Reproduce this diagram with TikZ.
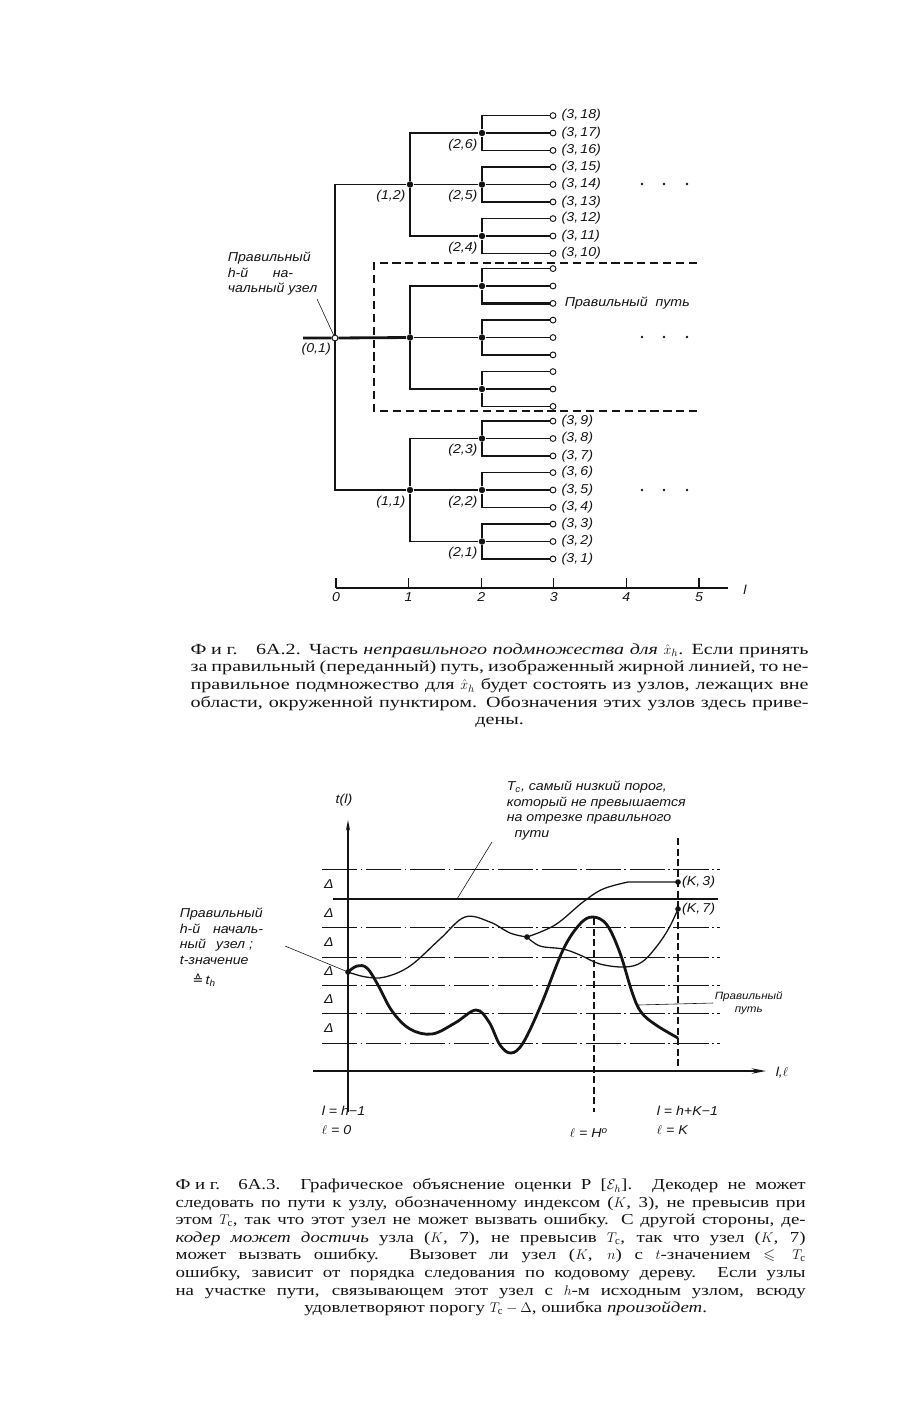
\documentclass[tikz,border=0pt]{standalone}
\usepackage{amssymb}
\usepackage{fontspec}
\setmainfont{Liberation Serif}
\newfontfamily\capfont[FakeStretch=1.3]{Liberation Serif}
\newfontfamily\capfontb[FakeStretch=1.24]{Liberation Serif}
\newfontfamily\labfont[FakeStretch=1.1]{Liberation Sans}
\newfontfamily\symfont{DejaVu Sans}
\usetikzlibrary{arrows.meta,positioning}
\definecolor{treeInk}{HTML}{141414}
\newcommand\capline[2][18.54cm]{\makebox[#1][s]{#2}}
\newcommand\xh{$\smash{\hat{x}_h}$}

\begin{document}
\begin{tikzpicture}[x=0.03cm,y=-0.03cm,line width=1.1pt,treeInk]
  \tikzset{
    lab/.style={font=\labfont\itshape\fontsize{11}{13.5}\selectfont,inner sep=1pt},
    knot/.style={circle,fill=treeInk,inner sep=0pt,minimum size=5.5pt},
    leaf/.style={circle,draw,fill=white,line width=0.8pt,inner sep=0pt,minimum size=5pt},
    mainpath/.style={line width=2.4pt},
    gline/.style={line width=0.45pt,dash pattern=on 30pt off 3pt on 1.5pt off 3pt},
    captext/.style={font=\capfont\fontsize{13.2}{15}\selectfont,inner sep=0pt,align=left,anchor=north west}
  }
  \useasboundingbox (0,0) rectangle (913,1423);

  % --- Fig. 6A.2: code tree ---
  \coordinate (r0) at (303,338);
  \node[leaf] (r) at (335,338) {};
  \node[knot] (u) at (410,184.5) {};
  \node[knot] (m) at (410,337.5) {};
  \node[knot] (d) at (410,490) {};
  \draw (r) |- (u);
  \draw (r) |- (d);
  \foreach \g/\y/\first in {u/184.5/18,m/337.5/0,d/490/9} {
    \foreach \j in {1,2,3} {
      \node[knot] (\g\j) at (482,{\y+51.5*(\j-2)}) {};
      \ifnum\j=2 \draw (\g) -- (\g\j); \else \draw (\g) |- (\g\j); \fi
      \foreach \k in {1,2,3} {
        \pgfmathtruncatemacro\nr{\first-3*(\j-1)-(\k-1)}
        \node[leaf] (\g\j\k) at (553,{\y+51.5*(\j-2)+17.4*(\k-2)}) {};
        \ifnum\k=2 \draw (\g\j) -- (\g\j\k); \else \draw (\g\j) |- (\g\j\k); \fi
        \ifnum\first>0 \node[lab,right=3pt of \g\j\k] {(3,\,\nr)}; \fi
      }
    }
  }
  % correct path
  \draw[mainpath] (r0) -- (r) -- (m);
  \draw[mainpath] (m) |- (m1);
  \draw[mainpath] (m1) |- (m13);
  \foreach \n/\t in {r/{(0,1)},u/{(1,2)},d/{(1,1)},u1/{(2,6)},u2/{(2,5)},u3/{(2,4)},d1/{(2,3)},d2/{(2,2)},d3/{(2,1)}}
    \node[lab,below left=1pt and 0pt of \n] {\t};
  \foreach \y in {184,337,490}
    \foreach \x in {642,664,687}
      \fill (\x,\y) circle (1.2pt);
  \draw[line width=1pt,dash pattern=on 7pt off 4pt] (697,263) -| (374,411) -- (697,411);
  \node[lab,anchor=west] (pp) at (563,303) {Правильный\ \ путь};
  \node[lab,align=left,anchor=north west] (nt) at (226,250) {Правильный\\h-й\hspace{1.9em}на-\\чальный узел};
  \coordinate (nt0) at (317,299);
  \draw[line width=0.5pt] (nt0) -- (r);
  % level axis
  \draw (336,588) -- (728,588);
  \foreach \i in {0,...,5} {
    \draw (336+72.6*\i,588) -- ++(0,-10);
    \node[lab,below=2pt] at (336+72.6*\i,588) {\i};
  }
  \node[lab] (lax) at (745,590) {l};

  \node[captext] (cap1) at (190,643) {%
    \capline{Ф\hspace{.3em}и\hspace{.3em}г.\hspace{1.2em}6А.2. Часть \textit{неправильного подмножества для} \xh. Если принять}\\
    \capline{за правильный (переданный) путь, изображенный жирной линией, то не-}\\
    \capline{правильное подмножество для \xh{} будет состоять из узлов, лежащих вне}\\
    \capline{области, окруженной пунктиром. Обозначения этих узлов здесь приве-}\\
    \makebox[18.54cm][c]{дены.}};

  % --- Fig. 6A.3: metric along the paths ---
  \foreach \y in {869,927,957,985,1013,1043}
    \draw[gline] (322,\y) -- (720,\y);
  \draw[line width=1.7pt] (333,899) -- (718,899);
  \foreach \y in {884,913,942,971,999,1028}
    \node[lab] at (329,\y) {Δ};
  \draw[line width=0.9pt,dash pattern=on 6pt off 3pt] (594,918) -- (594,1112);
  \draw[line width=0.9pt,dash pattern=on 6pt off 3pt] (678,838) -- (678,1071);
  \draw[-{Stealth[length=9pt,width=3.5pt]}] (348,1112) -- (348,820);
  \draw[line width=1.8pt,-{Stealth[length=12pt,width=4.5pt]}] (313,1071) -- (766,1071);

  \coordinate (s) at (348,972);
  \coordinate (nb) at (527,937);
  \coordinate (k3) at (678,882);
  \coordinate (k7) at (678,909);
  \coordinate (ke) at (678,1038);
  \draw plot[smooth,tension=0.6] coordinates {(s) (366,977) (385,977) (410,966) (440,939) (465,917) (490,922) (510,933) (nb)};
  \draw plot[smooth,tension=0.6] coordinates {(nb) (555,925) (583,902) (603,889) (628,882)} -- (k3);
  \draw plot[smooth,tension=0.6] coordinates {(nb) (540,946) (563,949) (580,955) (600,964) (625,967) (642,962) (657,946) (669,928) (k7)};
  \draw[mainpath] plot[smooth,tension=0.6] coordinates {(s) (357,966) (367,968) (378,985) (392,1011) (410,1029) (432,1034) (455,1023) (476,1010) (489,1022) (500,1045) (511,1053) (523,1043) (541,1005) (563,950) (580,924) (593,917) (607,925) (620,953) (632,992) (641,1012) (656,1025) (ke)};
  \foreach \c in {s,nb,k3,k7}
    \fill (\c) circle (2.4pt);

  \node[lab] (tl) at (344,800) {t(l)};
  \node[lab,anchor=west] (k3l) at ([xshift=2pt]k3) {(K,\,3)};
  \node[lab,anchor=west] (k7l) at ([xshift=2pt]k7) {(K,\,7)};
  \node[lab] (lel) at (782,1073) {l,$\ell$};
  \node[lab,align=left,anchor=north west] (tcn) at (505,779) {T\textsubscript{c}, самый низкий порог,\\который не превышается\\на отрезке правильного\\\ \ пути};
  \coordinate (tca) at (457,899);
  \coordinate (tcb) at (492,842);
  \draw[line width=0.5pt] (tca) -- (tcb);
  \node[lab,align=left,anchor=north west] (sn) at (178,906) {Правильный\\h-й\hspace{1em}началь-\\ный\hspace{.8em}узел ;\\t-значение\\[3pt]\hspace{1em}{\symfont\upshape ≙}\,t\textsubscript{h}};
  \coordinate (sna) at (285,946);
  \draw[line width=0.5pt] (sna) -- (s);
  \node[lab,align=center,anchor=west,font=\labfont\itshape\fontsize{9}{11}\selectfont] (pp2) at (713,1003) {Правильный\\путь};
  \coordinate (ppa) at (638,1005);
  \draw[line width=0.5pt] (ppa) -- (pp2.west);
  \node[lab,align=left,anchor=north west] (b1) at (320,1104) {l = h−1\\[3pt]$\ell$ = 0};
  \node[lab,anchor=west] (b2) at (568,1133) {$\ell$ = H\textsuperscript{o}};
  \node[lab,align=left,anchor=north west] (b3) at (655,1104) {l = h+K−1\\[3pt]$\ell$ = K};

  \node[captext,font=\capfontb\fontsize{13}{15}\selectfont] (cap2) at (175,1178) {%
    \capline[18.9cm]{Ф\hspace{.3em}и\hspace{.3em}г.\hspace{1.2em}6А.3. Графическое объяснение оценки P [$\mathcal{E}_h$]. Декодер не может}\\
    \capline[18.9cm]{следовать по пути к узлу, обозначенному индексом ($K$, 3), не превысив при}\\
    \capline[18.9cm]{этом $T_\mathrm{c}$, так что этот узел не может вызвать ошибку. С другой стороны, де-}\\
    \capline[18.9cm]{\textit{кодер может достичь} узла ($K$, 7), не превысив $T_\mathrm{c}$, так что узел ($K$, 7)}\\
    \capline[18.9cm]{может вызвать ошибку. Вызовет ли узел ($K$, $n$) с $t$-значением $\leqslant T_\mathrm{c}$}\\
    \capline[18.9cm]{ошибку, зависит от порядка следования по кодовому дереву. Если узлы}\\
    \capline[18.9cm]{на участке пути, связывающем этот узел с $h$-м исходным узлом, всюду}\\
    \makebox[18.9cm][c]{\hspace{0.9cm}удовлетворяют порогу $T_\mathrm{c}-\Delta$, ошибка \textit{произойдет}.}};
\end{tikzpicture}
\end{document}
